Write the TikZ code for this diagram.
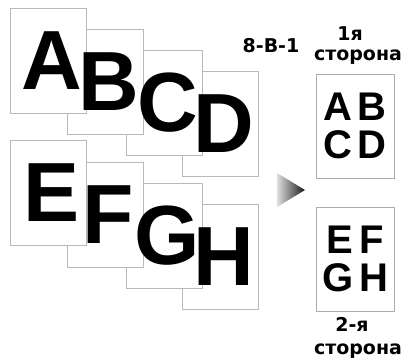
\documentclass[tikz,border=0pt]{standalone}
\usepackage{fontspec}
\setmainfont{Liberation Sans}
\newfontfamily\labelfont{DejaVu Sans}
\begin{document}
\begin{tikzpicture}[x=1pt,y=-1pt,
	sheet/.style={draw=gray!55,fill=white,line width=0.8pt,minimum width=76pt,minimum height=105pt,inner sep=0pt},
	bigletter/.style={font=\fontsize{84}{84}\selectfont\bfseries,inner sep=0pt},
	sidebox/.style={draw=gray!65,line width=0.6pt,minimum width=78pt,minimum height=104pt,inner sep=0pt,align=center,font=\fontsize{40}{38}\selectfont\bfseries},
	caption/.style={font=\labelfont\bfseries\fontsize{19}{19}\selectfont,inner sep=0pt,anchor=base}]
		\useasboundingbox (0,0) rectangle (404,360);
		\clip (0,0) rectangle (404,360);
		% stacked sheets
		\foreach \name/\x/\y in {D/182/71,C/126/50,B/67/29,A/10/8,H/182/204,G/126/183,F/67/162,E/10/140}
			\node[sheet,anchor=north west] (page\name) at (\x,\y) {};
		\foreach \name in {A,B,C,D,E,F,G,H}
			\node[bigletter,xshift=3pt] (letter\name) at (page\name.center) {\name};
		% arrow
		\shade[left color=gray!25,right color=black!90] (277,173) -- (305,190) -- (277,207) -- cycle;
		% output sides
		\node[sidebox] (side1) at (355,126) {A\hspace{6pt}B\\C\hspace{6pt}D};
		\node[sidebox] (side2) at (355,259) {E\hspace{6pt}F\\G\hspace{6pt}H};
		\node[caption] (mode) at (271,52) {8-В-1};
		\node[caption] (side1num) at (350,40) {1я};
		\node[caption] (side1word) at (358,60) {сторона};
		\node[caption] (side2num) at (352,331) {2-я};
		\node[caption] (side2word) at (358,354) {сторона};
\end{tikzpicture}
\end{document}
